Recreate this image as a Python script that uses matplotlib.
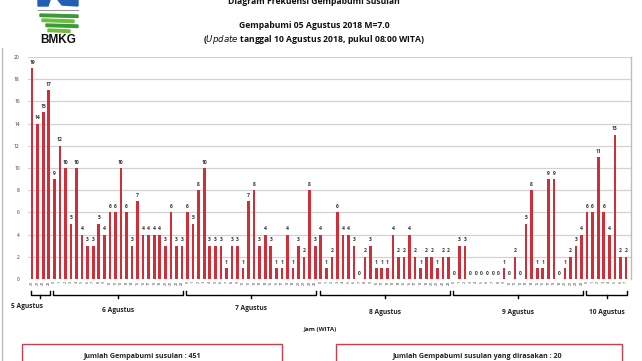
import numpy as np
import matplotlib.pyplot as plt
from matplotlib.patches import Rectangle, Polygon
from matplotlib.transforms import blended_transform_factory

plt.rcParams['font.family'] = ['Open Sans', 'DejaVu Sans']

# hourly counts of aftershocks, one list per day
day_names = ['5 Agustus', '6 Agustus', '7 Agustus', '8 Agustus', '9 Agustus', '10 Agustus']
day_hours = [
    [20, 21, 22, 23],
    list(range(24)),
    list(range(24)),
    list(range(24)),
    list(range(24)),
    list(range(8)),
]
day_counts = [
    [19, 14, 15, 17],
    [9, 12, 10, 5, 10, 4, 3, 3, 5, 4, 6, 6, 10, 6, 3, 7, 4, 4, 4, 4, 3, 6, 3, 3],
    [6, 5, 8, 10, 3, 3, 3, 1, 3, 3, 1, 7, 8, 3, 4, 3, 1, 1, 4, 1, 3, 2, 8, 3],
    [4, 1, 2, 6, 4, 4, 3, 0, 2, 3, 1, 1, 1, 4, 2, 2, 4, 2, 1, 2, 2, 1, 2, 2],
    [0, 3, 3, 0, 0, 0, 0, 0, 0, 1, 0, 2, 0, 5, 8, 1, 1, 9, 9, 0, 1, 2, 3, 4],
    [6, 6, 11, 6, 4, 13, 2, 2],
]
total_shocks = 451
felt_shocks = 20

counts = np.concatenate(day_counts)
hours = np.concatenate(day_hours)
x = np.arange(len(counts))

W, H = 642, 361
fig = plt.figure(figsize=(W / 100, H / 100), dpi=100)

def fx(px):
    return px / W

def fy(py):
    return 1 - py / H

ax = fig.add_axes([fx(28), fy(279), fx(631 - 28), (279 - 57) / H])
red = '#cf2f38'
ax.bar(x, counts, width=0.48, color=red, zorder=3)
for xi, c in zip(x, counts):
    ax.text(xi, c + 0.3, str(c), ha='center', va='bottom', fontsize=3.6,
            fontweight='bold', color='#333333')

ax.set_xlim(-0.75, len(counts) - 0.1)
ax.set_ylim(0, 20)
ax.set_yticks(np.arange(0, 21, 2))
ax.tick_params(axis='y', labelsize=3.5, length=0, pad=6, labelcolor='#333333')
ax.set_xticks(x)
ax.set_xticklabels([str(h) for h in hours], rotation=90, fontsize=2.6)
ax.tick_params(axis='x', length=0, pad=1.5, labelcolor='#333333')
ax.grid(axis='y', color='#d2d2d2', linewidth=0.9, zorder=0)
for s in ['left', 'top', 'bottom']:
    ax.spines[s].set_visible(False)
ax.spines['right'].set_color('#bdbdbd')
ax.spines['right'].set_linewidth(1.0)

# day brackets under the hour labels
tr = blended_transform_factory(ax.transData, fig.transFigure)
start = 0
label_dy = [307, 311, 309, 313, 312, 313]
for name, dc, ly in zip(day_names, day_counts, label_dy):
    a = start - 0.2
    b = start + len(dc) - 0.8
    m = (a + b) / 2
    yb, yt, ym = fy(295), fy(291), fy(298)
    ax.plot([a, a, b, b], [yt, yb, yb, yt], transform=tr, color='black',
            lw=1.0, clip_on=False)
    ax.plot([m, m], [yb, ym], transform=tr, color='black', lw=1.0, clip_on=False)
    tx = m if start > 0 else m - 2.5
    fig.text(tx, fy(ly), name, transform=tr, ha='center', va='center',
             fontsize=4.8, fontweight='bold', color='#222222')
    start += len(dc)

fig.text(fx(320), fy(329), 'Jam (WITA)', ha='center', va='center',
         fontsize=4.5, fontweight='bold', color='#222222')

# title
fig.text(fx(314), fy(2), 'Diagram Frekuensi Gempabumi Susulan', ha='center',
         va='center', fontsize=6.2, fontweight='bold', color='#111111')
fig.text(fx(314), fy(25), 'Gempabumi 05 Agustus 2018 M=7.0', ha='center',
         va='center', fontsize=6.2, fontweight='bold', color='#111111')
fig.text(fx(314), fy(40), r'($\bf{\it{Update}}$ tanggal 10 Agustus 2018, pukul 08:00 WITA)',
         ha='center', va='center', fontsize=6.2, fontweight='bold', color='#111111')

# BMKG logo (simplified)
fig.patches.append(Polygon([(fx(38), fy(0)), (fx(50), fy(0)), (fx(48), fy(6)), (fx(38), fy(6))],
                           closed=True, transform=fig.transFigure, color='#1f5fb4'))
fig.patches.append(Polygon([(fx(58), fy(0)), (fx(78), fy(0)), (fx(78), fy(6)), (fx(62), fy(5))],
                           closed=True, transform=fig.transFigure, color='#1f5fb4'))
fig.add_artist(plt.Line2D([fx(38), fx(78)], [fy(10), fy(10)], color='#999999', lw=0.8))
for i, (x0, x1) in enumerate([(40, 78), (42, 74), (46, 78), (48, 70)]):
    y0 = 14 + i * 5
    fig.patches.append(Polygon([(fx(x0), fy(y0)), (fx(x1), fy(y0 + 1)),
                                (fx(x1), fy(y0 + 3.5)), (fx(x0), fy(y0 + 2.5))],
                               closed=True, transform=fig.transFigure,
                               color='#3a9a3a' if i % 2 == 0 else '#6cbf3a'))
fig.text(fx(58), fy(40), 'BMKG', ha='center', va='center', fontsize=8.5,
         fontweight='bold', family=['Liberation Sans', 'DejaVu Sans'], color='#111111')

# outer frame line at left
fig.add_artist(plt.Line2D([fx(2), fx(2)], [fy(48), fy(361)], color='#bdbdbd', lw=1.0))

# summary boxes
for x0, x1, tc, txt in [(22, 282, 142, 'Jumlah Gempabumi susulan : %d' % total_shocks),
                        (336, 622, 477, 'Jumlah Gempabumi susulan yang dirasakan : %d' % felt_shocks)]:
    fig.patches.append(Rectangle((fx(x0), fy(370)), fx(x1 - x0), (370 - 344) / H,
                                 transform=fig.transFigure, fill=False,
                                 edgecolor='#c9404a', lw=1.0))
    fig.text(fx(tc), fy(356), txt, ha='center', va='center',
             fontsize=5.1, fontweight='bold', color='#222222')

fig.savefig('out.png', dpi=100)
